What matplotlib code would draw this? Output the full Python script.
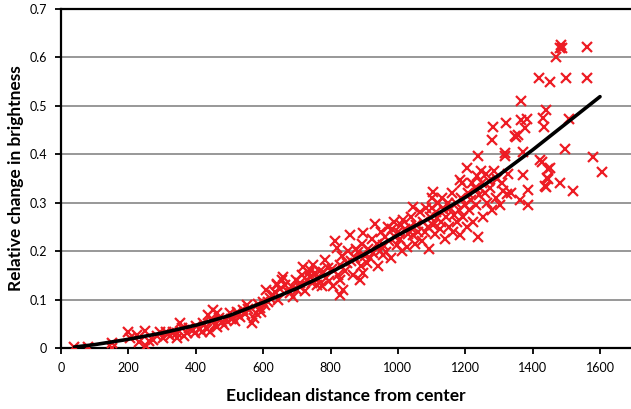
import matplotlib
matplotlib.use("Agg")
import matplotlib.pyplot as plt
from matplotlib.ticker import MultipleLocator

# scatter data: distance from center, relative change
dist = [
    39, 81, 150, 150, 200, 204, 225, 233, 249, 252, 262, 274, 284, 294, 303, 313, 318, 323, 333, 343,
    345, 353, 358, 365, 373, 380, 392, 398,
    402, 412, 418, 422, 432, 437, 442, 447, 452, 452, 458, 462, 462, 470, 477, 485, 491, 501, 505, 511,
    516, 521, 526, 531, 541, 546, 551, 556, 566, 572, 580, 585, 590, 595,
    600, 605, 610, 615, 620, 628, 635, 640, 640, 645, 650, 655, 660, 665, 672, 680, 686, 690, 699, 700,
    705, 710, 715, 719, 725, 730, 735, 739, 739, 745, 749, 754, 759, 764, 770, 774, 779, 784, 788, 792, 796,
    803, 808, 813, 818, 822, 828, 828, 828, 833, 838, 842, 848, 852, 858, 862, 867, 872, 876, 882, 887,
    890, 894, 897, 897, 902, 907, 912, 917, 922, 927, 932, 937, 942, 946, 951, 957, 957, 962, 966, 970,
    975, 980, 984, 988, 992, 996,
    1000, 1005, 1008, 1012, 1016, 1020, 1026, 1030, 1035, 1040, 1046, 1046, 1050, 1055, 1060, 1065, 1071,
    1075, 1080, 1084, 1088, 1092, 1096, 1100, 1100, 1105, 1105, 1110, 1113, 1115, 1120, 1124, 1128, 1132,
    1136, 1140, 1144, 1148, 1152, 1156, 1160, 1164, 1168, 1172, 1176, 1180, 1184, 1184, 1188, 1190, 1194, 1198,
    1204, 1204, 1208, 1212, 1216, 1220, 1224, 1228, 1232, 1236, 1239, 1239, 1242, 1246, 1250, 1254, 1258,
    1262, 1266, 1270, 1274, 1278, 1280, 1283, 1286, 1290, 1295, 1303, 1308, 1312, 1318, 1318, 1321, 1323,
    1328, 1335, 1348, 1352, 1358, 1362, 1364, 1365, 1372, 1372, 1377, 1382, 1387, 1387,
    1419, 1422, 1427, 1430, 1433, 1436, 1440, 1441, 1444, 1445, 1446, 1452, 1453, 1468, 1480, 1484, 1488,
    1481, 1496, 1498, 1509, 1521, 1560, 1560, 1578, 1605,
]
change = [
    .003, .003, .000, .010, .034, .020, .027, .013, .035, .004, .015, .017, .025, .034, .020, .034, .028, .024, .034, .020,
    .030, .051, .041, .025, .030, .042, .037, .030,
    .045, .040, .033, .051, .040, .068, .034, .055, .078, .058, .047, .072, .044, .062, .054, .048, .058, .072, .060, .062,
    .055, .075, .068, .065, .079, .070, .089, .080, .051, .062, .072, .090, .082, .075,
    .096, .088, .120, .095, .103, .110, .116, .130, .133, .100, .122, .140, .147, .131, .118, .113, .125, .106, .140, .120,
    .128, .134, .150, .168, .117, .140, .155, .161, .147, .135, .171, .154, .130, .143, .160, .127, .157, .182, .145, .165, .138,
    .164, .127, .220, .207, .150, .171, .140, .110, .190, .120, .160, .175, .200, .233, .180, .150, .186, .205, .199, .141,
    .170, .215, .237, .154, .190, .175, .205, .185, .225, .196, .257, .215, .170, .200, .240, .213, .192, .230, .199, .250,
    .220, .185, .245, .260, .230, .213,
    .240, .225, .255, .200, .265, .245, .209, .235, .250, .270, .234, .292, .215, .255, .240, .280, .220,
    .260, .240, .290, .250, .205, .270, .289, .310, .254, .323, .235, .280, .268, .300, .245, .260, .310,
    .285, .225, .270, .300, .250, .290, .320, .240, .275, .300, .260, .285, .347, .233, .310, .340, .270, .295,
    .371, .250, .320, .285, .305, .340, .261, .330, .295, .355, .396, .230, .315, .365, .340, .270, .320,
    .360, .300, .345, .330, .430, .285, .457, .365, .310, .350, .295, .340, .325, .402, .396, .464, .319,
    .360, .320, .438, .436, .440, .306, .509, .470, .405, .357, .455, .473, .326, .295,
    .557, .388, .385, .474, .456, .335, .491, .333, .352, .370, .350, .371, .549, .600, .620, .625, .620,
    .341, .411, .557, .473, .325, .622, .557, .395, .363,
]

# trend curve
curve_x = [40, 100, 200, 300, 400, 500, 600, 700, 800, 900, 1000, 1100, 1200, 1300, 1400, 1500, 1600]
curve_y = [0.002, 0.007, 0.018, 0.031, 0.047, 0.067, 0.094, 0.123, 0.156, 0.193, 0.233, 0.270,
           0.311, 0.357, 0.409, 0.464, 0.519]

plt.rcParams['font.family'] = ['Lato', 'DejaVu Sans']

fig = plt.figure(figsize=(6.31, 4.09), dpi=100)
ax = fig.add_axes([61/631, 1 - 348/409, 1 - 61/631, 339/409])

ax.plot(dist, change, 'x', color='#ED1C24', ms=7.5, mew=1.6, zorder=3)
ax.plot(curve_x, curve_y, color='black', lw=2.6, zorder=4, solid_capstyle='round')

ax.set_xlim(0, 1692)
ax.set_ylim(0, 0.7)
ax.set_xticks(range(0, 1601, 200))
ax.yaxis.set_major_locator(MultipleLocator(0.1))
ax.yaxis.set_major_formatter(lambda v, p: '0' if v == 0 else f'{v:.1f}')

ax.grid(axis='y', color='#868686', lw=1.2, zorder=1)
ax.set_axisbelow(True)
for s in ['left', 'bottom', 'top']:
    ax.spines[s].set_linewidth(1.6)
    ax.spines[s].set_color('black')
ax.spines['right'].set_visible(False)
ax.tick_params(direction='out', length=4, width=1.3, labelsize=9, pad=6)

ax.set_xlabel('Euclidean distance from center', fontsize=12.5, fontweight='bold', labelpad=10)
ax.set_ylabel('Relative change in brightness', fontsize=12.5, fontweight='bold', labelpad=4)

fig.savefig('out.png', dpi=100)
